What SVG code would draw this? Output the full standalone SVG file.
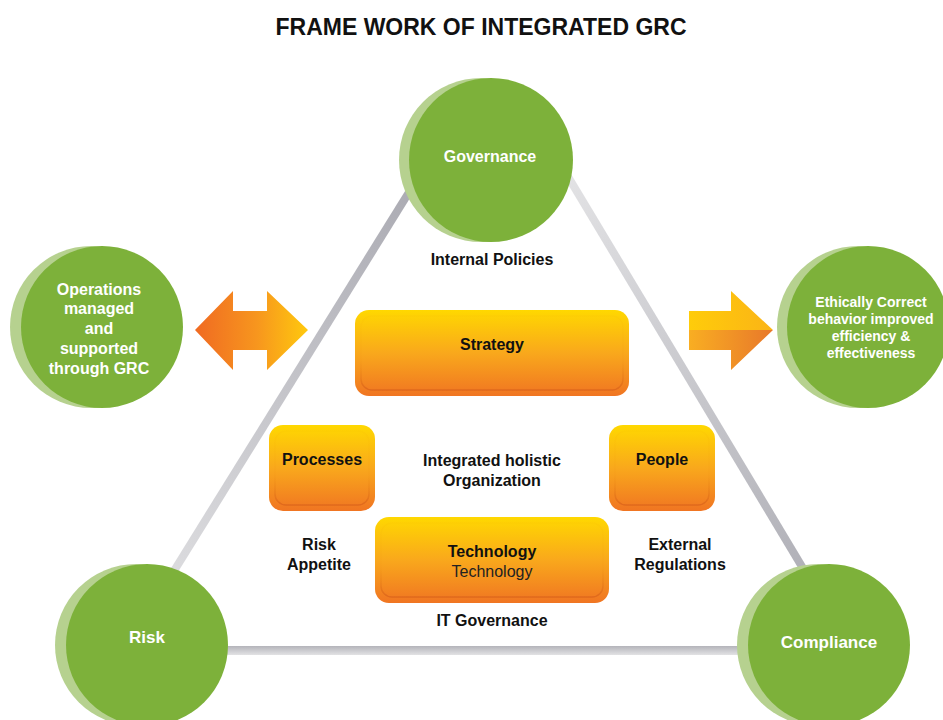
<svg xmlns="http://www.w3.org/2000/svg" width="943" height="720" viewBox="0 0 943 720">
  <defs>
    <linearGradient id="box" x1="0" y1="0" x2="0" y2="1">
      <stop offset="0" stop-color="#ffd800"/>
      <stop offset="0.5" stop-color="#f9a81c"/>
      <stop offset="1" stop-color="#f07522"/>
    </linearGradient>
    <linearGradient id="inner" x1="0" y1="0" x2="0" y2="1">
      <stop offset="0" stop-color="#f5b000" stop-opacity="0.1"/>
      <stop offset="0.6" stop-color="#e88a10" stop-opacity="0.1"/>
      <stop offset="1" stop-color="#d8601a" stop-opacity="0.7"/>
    </linearGradient>
    <linearGradient id="dbl" x1="0" y1="0" x2="1" y2="0">
      <stop offset="0" stop-color="#f06a22"/>
      <stop offset="0.55" stop-color="#f7961e"/>
      <stop offset="1" stop-color="#ffc90e"/>
    </linearGradient>
    <linearGradient id="rTop" x1="0" y1="0" x2="1" y2="0">
      <stop offset="0" stop-color="#ffcc0a"/>
      <stop offset="1" stop-color="#fbb416"/>
    </linearGradient>
    <linearGradient id="rBot" x1="0" y1="0" x2="1" y2="0">
      <stop offset="0" stop-color="#f9ae22"/>
      <stop offset="1" stop-color="#e8782a"/>
    </linearGradient>
    <linearGradient id="lineL" gradientUnits="userSpaceOnUse" x1="429" y1="160" x2="128" y2="645">
      <stop offset="0" stop-color="#a8a8b0"/>
      <stop offset="1" stop-color="#e4e4e6"/>
    </linearGradient>
    <linearGradient id="lineR" gradientUnits="userSpaceOnUse" x1="558" y1="160" x2="849" y2="645">
      <stop offset="0" stop-color="#e4e4e6"/>
      <stop offset="1" stop-color="#a8a8b0"/>
    </linearGradient>
    <linearGradient id="lineB" x1="0" y1="0" x2="0" y2="1">
      <stop offset="0" stop-color="#b4b4ba"/>
      <stop offset="1" stop-color="#e2e2e4"/>
    </linearGradient>
  </defs>
  <style>
    .title{font-family:"Liberation Sans",Arial,sans-serif;font-weight:bold;font-size:23px;fill:#111;text-anchor:middle}
    .lbl{font-family:"Liberation Sans",Arial,sans-serif;font-weight:bold;font-size:16px;fill:#111;text-anchor:middle}
    .reg{font-family:"Liberation Sans",Arial,sans-serif;font-size:16px;fill:#222;text-anchor:middle}
    .wt{font-family:"Liberation Sans",Arial,sans-serif;font-weight:bold;font-size:16px;fill:#fff;text-anchor:middle}
    .wtl{font-family:"Liberation Sans",Arial,sans-serif;font-weight:bold;font-size:17px;fill:#fff;text-anchor:middle}
    .wts{font-family:"Liberation Sans",Arial,sans-serif;font-weight:bold;font-size:14px;fill:#fff;text-anchor:middle}
    .back{fill:#b6d18f}
    .main{fill:#7db13a}
    .box{fill:url(#box)}
    .inner{fill:none;stroke:url(#inner);stroke-width:1.5}
  </style>
  <rect width="943" height="720" fill="#fff"/>
  <text class="title" x="481" y="35">FRAME WORK OF INTEGRATED GRC</text>

  <g id="connectors">
    <line x1="429" y1="160" x2="128" y2="645" stroke="url(#lineL)" stroke-width="8"/>
    <line x1="558" y1="160" x2="849" y2="645" stroke="url(#lineR)" stroke-width="8"/>
    <rect x="150" y="646" width="680" height="9" fill="url(#lineB)"/>
  </g>

  <g id="arrow-double">
    <polygon points="195,330 233,291 233,311 267,311 267,291 308,330 267,370 267,350 233,350 233,370" fill="url(#dbl)"/>
  </g>
  <g id="arrow-right">
    <polygon points="689,311 731,311 731,291 773,330 689,330" fill="url(#rTop)"/>
    <polygon points="689,330 773,330 731,370 731,350 689,350" fill="url(#rBot)"/>
  </g>

  <g id="governance">
    <circle class="back" cx="481" cy="160" r="82"/>
    <circle class="main" cx="491" cy="160" r="82"/>
    <text class="wt" x="490" y="162">Governance</text>
  </g>
  <g id="operations">
    <circle class="back" cx="91" cy="327" r="81"/>
    <circle class="main" cx="102" cy="327" r="81"/>
    <text class="wt" x="99" y="295">Operations</text>
    <text class="wt" x="99" y="314">managed</text>
    <text class="wt" x="99" y="334">and</text>
    <text class="wt" x="99" y="354">supported</text>
    <text class="wt" x="99" y="374">through GRC</text>
  </g>
  <g id="ethically">
    <circle class="back" cx="858" cy="327" r="81"/>
    <circle class="main" cx="868" cy="327" r="81"/>
    <text class="wts" x="871" y="307">Ethically Correct</text>
    <text class="wts" x="871" y="324">behavior improved</text>
    <text class="wts" x="871" y="341">efficiency &amp;</text>
    <text class="wts" x="871" y="358">effectiveness</text>
  </g>
  <g id="risk">
    <circle class="back" cx="136" cy="645" r="81"/>
    <circle class="main" cx="147" cy="645" r="81"/>
    <text class="wtl" x="147" y="643">Risk</text>
  </g>
  <g id="compliance">
    <circle class="back" cx="818" cy="645" r="81"/>
    <circle class="main" cx="829" cy="645" r="81"/>
    <text class="wtl" x="829" y="648">Compliance</text>
  </g>

  <text class="lbl" x="492" y="265">Internal Policies</text>

  <g id="strategy">
    <rect class="box" x="355" y="310" width="274" height="86" rx="14"/>
    <rect class="inner" x="361" y="316" width="262" height="74" rx="11"/>
    <text class="lbl" x="492" y="350">Strategy</text>
  </g>
  <g id="processes">
    <rect class="box" x="269" y="425" width="106" height="86" rx="14"/>
    <rect class="inner" x="275" y="431" width="94" height="74" rx="11"/>
    <text class="lbl" x="322" y="465">Processes</text>
  </g>
  <g id="people">
    <rect class="box" x="609" y="425" width="106" height="86" rx="14"/>
    <rect class="inner" x="615" y="431" width="94" height="74" rx="11"/>
    <text class="lbl" x="662" y="465">People</text>
  </g>
  <g id="technology">
    <rect class="box" x="375" y="517" width="234" height="86" rx="14"/>
    <rect class="inner" x="381" y="523" width="222" height="74" rx="11"/>
    <text class="lbl" x="492" y="557">Technology</text>
    <text class="reg" x="492" y="577">Technology</text>
  </g>

  <text class="lbl" x="492" y="466">Integrated holistic</text>
  <text class="lbl" x="492" y="486">Organization</text>
  <text class="lbl" x="319" y="550">Risk</text>
  <text class="lbl" x="319" y="570">Appetite</text>
  <text class="lbl" x="680" y="550">External</text>
  <text class="lbl" x="680" y="570">Regulations</text>
  <text class="lbl" x="492" y="626">IT Governance</text>
</svg>
